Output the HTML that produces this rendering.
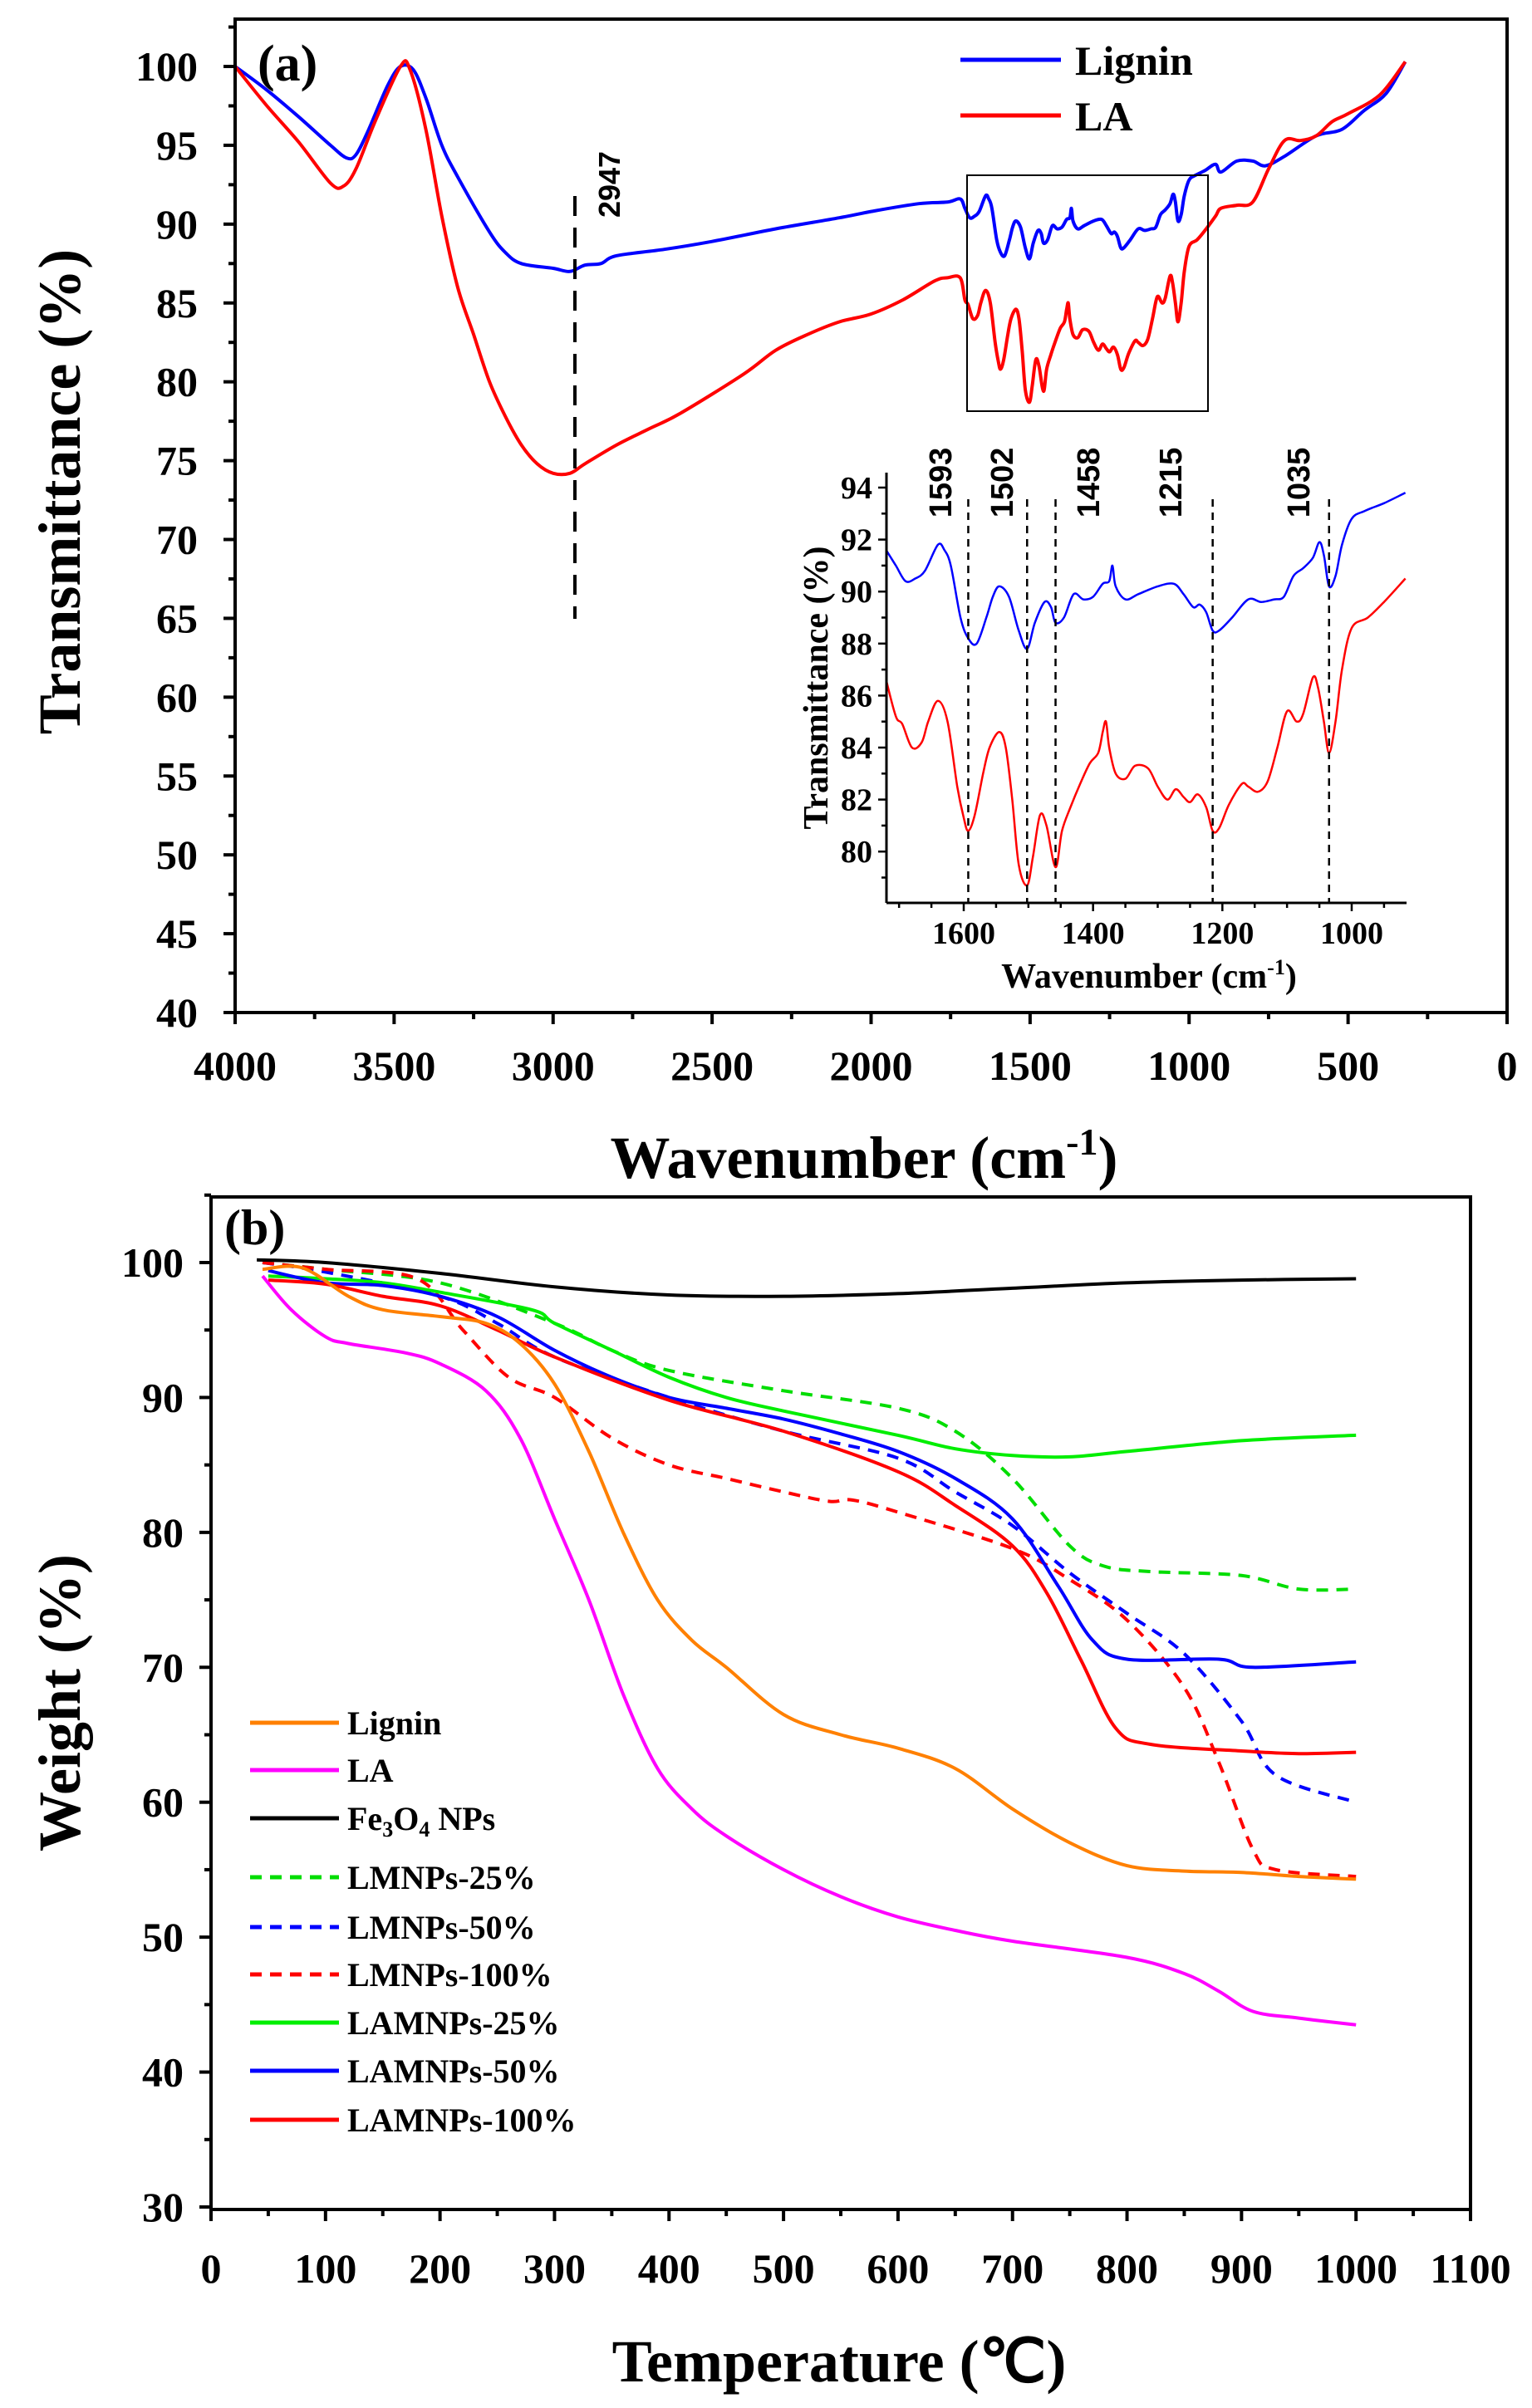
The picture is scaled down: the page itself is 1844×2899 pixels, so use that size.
<!DOCTYPE html>
<html><head><meta charset="utf-8"><style>
html,body{margin:0;padding:0;background:#fff;}
svg{display:block;}
.t{font-family:"Liberation Serif",serif;font-weight:bold;fill:#000;}
.s{font-family:"Liberation Sans",sans-serif;font-weight:bold;fill:#000;}
</style></head><body>
<svg id="g" width="1844" height="2899" viewBox="0 0 1844 2899" xmlns="http://www.w3.org/2000/svg">
<rect width="1844" height="2899" fill="#fff"/>
<g id="A"></g>
<text class="t" x="310" y="97" font-size="62">(a)</text>
<text class="t" x="1294" y="90" font-size="50">Lignin</text>
<text class="t" x="1294" y="157" font-size="50">LA</text>
<text class="s" font-size="36" transform="translate(746,222) rotate(-90)" text-anchor="middle">2947</text>
<text class="t" font-size="72" transform="translate(96,592) rotate(-90)" text-anchor="middle">Transmittance (%)</text>
<text class="t" x="1040" y="1418" font-size="72" text-anchor="middle">Wavenumber (cm<tspan font-size="46" dy="-28">-1</tspan><tspan dy="28">)</tspan></text>
<text class="t" font-size="42" transform="translate(996,828) rotate(-90)" text-anchor="middle">Transmittance (%)</text>
<text class="t" x="1383" y="1189" font-size="42" text-anchor="middle">Wavenumber (cm<tspan font-size="26" dy="-16">-1</tspan><tspan dy="16">)</tspan></text>
<text class="s" font-size="38" transform="translate(1145,581) rotate(-90)" text-anchor="middle">1593</text>
<text class="s" font-size="38" transform="translate(1219,581) rotate(-90)" text-anchor="middle">1502</text>
<text class="s" font-size="38" transform="translate(1323,581) rotate(-90)" text-anchor="middle">1458</text>
<text class="s" font-size="38" transform="translate(1422,581) rotate(-90)" text-anchor="middle">1215</text>
<text class="s" font-size="38" transform="translate(1576,581) rotate(-90)" text-anchor="middle">1035</text>
<g id="B"></g>
<text class="t" x="270" y="1498" font-size="60">(b)</text>
<text class="t" font-size="72" transform="translate(96,2050) rotate(-90)" text-anchor="middle">Weight (%)</text>
<text class="t" x="1010" y="2867" font-size="72" text-anchor="middle">Temperature (℃)</text>
<g class="t" font-size="40">
<text x="418" y="2088">Lignin</text>
<text x="418" y="2145">LA</text>
<text x="418" y="2203">Fe<tspan font-size="26" dy="8">3</tspan><tspan dy="-8">O</tspan><tspan font-size="26" dy="8">4</tspan><tspan dy="-8"> NPs</tspan></text>
<text x="418" y="2274">LMNPs-25%</text>
<text x="418" y="2334">LMNPs-50%</text>
<text x="418" y="2391">LMNPs-100%</text>
<text x="418" y="2449">LAMNPs-25%</text>
<text x="418" y="2507">LAMNPs-50%</text>
<text x="418" y="2566">LAMNPs-100%</text>
</g>
</svg>
<script>
var NS="http://www.w3.org/2000/svg";
function el(p,n,a,txt){var e=document.createElementNS(NS,n);for(var k in a)e.setAttribute(k,a[k]);if(txt!=null)e.textContent=txt;p.appendChild(e);return e;}
var A=document.getElementById('A'),B=document.getElementById('B');
var aL=283,aR=1814,aT=23,aB=1219;
function ax(w){return aL+(4000-w)*(aR-aL)/4000;}
function ay(v){return 80+(100-v)*(aB-80)/60;}
function path(p,pts,fx,fy,col,w,dash){
 var P=pts.map(function(q){return [fx(q[0]),fy(q[1])];});
 var d='M'+P[0][0].toFixed(1)+','+P[0][1].toFixed(1);
 for(var i=0;i<P.length-1;i++){
  var p0=P[i>0?i-1:i],p1=P[i],p2=P[i+1],p3=P[i+2<P.length?i+2:i+1];
  var c1x=p1[0]+(p2[0]-p0[0])/6,c1y=p1[1]+(p2[1]-p0[1])/6,c2x=p2[0]-(p3[0]-p1[0])/6,c2y=p2[1]-(p3[1]-p1[1])/6;
  d+='C'+c1x.toFixed(1)+','+c1y.toFixed(1)+' '+c2x.toFixed(1)+','+c2y.toFixed(1)+' '+p2[0].toFixed(1)+','+p2[1].toFixed(1);
 }
 var a={d:d,fill:'none',stroke:col,'stroke-width':w,'stroke-linejoin':'round'};if(dash)a['stroke-dasharray']=dash;el(p,'path',a);}
var bi=[[1720,91.6],[1705,91],[1690,90.4],[1675,90.5],[1660,90.8],[1640,91.8],[1630,91.6],[1620,91],[1605,89],[1593,88.2],[1580,88],[1565,89],[1555,89.8],[1545,90.2],[1530,89.8],[1515,88.5],[1502,87.8],[1490,88.8],[1475,89.6],[1465,89.4],[1458,88.8],[1445,89],[1430,89.9],[1415,89.7],[1400,89.8],[1385,90.3],[1375,90.4],[1370,91],[1365,90.2],[1350,89.7],[1330,89.9],[1300,90.2],[1275,90.3],[1260,89.9],[1245,89.4],[1235,89.5],[1225,89.2],[1215,88.5],[1205,88.5],[1185,89],[1160,89.7],[1140,89.6],[1120,89.7],[1105,89.8],[1090,90.6],[1075,90.9],[1060,91.3],[1050,91.9],[1043,91.4],[1035,90.2],[1025,90.6],[1015,91.8],[1000,92.8],[980,93.1],[950,93.4],[917,93.8]];
var ri=[[1720,86.6],[1705,85.2],[1695,84.9],[1680,84],[1665,84.2],[1655,85],[1640,85.8],[1625,85],[1610,82.5],[1600,81.3],[1593,80.8],[1583,81.4],[1570,83],[1560,84],[1545,84.6],[1535,84],[1525,82],[1515,79.5],[1502,78.7],[1493,79.8],[1482,81.4],[1472,81],[1458,79.4],[1448,80.8],[1435,81.7],[1420,82.6],[1405,83.4],[1392,83.8],[1385,84.6],[1380,85],[1375,84],[1365,83],[1350,82.8],[1335,83.3],[1315,83.2],[1300,82.5],[1285,82],[1272,82.4],[1260,82.1],[1250,81.9],[1238,82.2],[1225,81.7],[1215,80.8],[1205,80.9],[1190,81.8],[1170,82.6],[1160,82.5],[1145,82.3],[1130,82.7],[1115,84],[1100,85.4],[1085,85],[1075,85.3],[1060,86.7],[1052,86.3],[1043,85],[1035,83.8],[1025,85],[1015,87],[1000,88.6],[975,89],[950,89.6],[917,90.5]];
var iL=1067,iR=1693,iT=569,iB=1087;
function ix(w){return 1160+(1600-w)*0.7783;}
function iy(v){return 587+(94-v)*31.3;}
var blue=[[4000,100],[3900,98.5],[3800,96.8],[3700,95],[3650,94.2],[3620,94.4],[3580,96],[3520,98.8],[3480,100],[3440,99.8],[3400,98],[3350,95],[3300,93],[3200,89.5],[3150,88.2],[3100,87.5],[3000,87.2],[2947,87],[2900,87.4],[2850,87.5],[2800,88],[2650,88.4],[2500,88.9],[2300,89.7],[2100,90.4],[2000,90.8],[1850,91.3],[1760,91.4]].concat(bi.filter(function(p){return p[0]<1760;})).concat([[900,93.3],[850,94],[800,94],[760,93.7],[700,94.3],[600,95.6],[520,96],[450,97.2],[380,98.3],[320,100.3]]);
var red=[[4000,100],[3900,97.5],[3800,95.2],[3700,92.6],[3660,92.4],[3620,93.5],[3560,96.5],[3480,100],[3450,99.8],[3400,96],[3350,90.5],[3300,86],[3250,83],[3200,80],[3150,77.8],[3100,76],[3050,74.8],[3000,74.2],[2947,74.2],[2900,74.8],[2800,76],[2700,77],[2600,78],[2400,80.5],[2300,82],[2200,83],[2100,83.8],[2000,84.3],[1900,85.2],[1800,86.4],[1760,86.6]].concat(ri.filter(function(p){return p[0]<1760;})).concat([[900,91],[850,91.2],[800,91.4],[750,93.5],[700,95.3],[650,95.3],[600,95.6],[550,96.5],[500,97],[400,98.2],[320,100.3]]);
path(A,blue,ax,ay,'#0000ff',4);
path(A,red,ax,ay,'#ff0000',4);
el(A,'rect',{x:aL,y:aT,width:aR-aL,height:aB-aT,fill:'none',stroke:'#000','stroke-width':4});
for(var v=40;v<=102.5;v+=2.5){var y=ay(v),mj=(v%5==0);el(A,'line',{x1:aL,y1:y,x2:aL-(mj?14:8),y2:y,stroke:'#000','stroke-width':4});if(mj&&v<=100)el(A,'text',{'class':'t',x:238,y:y+17,'font-size':50,'text-anchor':'end'},v);}
for(var w=0;w<=4000;w+=250){var x=ax(w),mj=(w%500==0);el(A,'line',{x1:x,y1:aB,x2:x,y2:aB+(mj?14:8),stroke:'#000','stroke-width':4});if(mj)el(A,'text',{'class':'t',x:x,y:1300,'font-size':50,'text-anchor':'middle'},w);}
el(A,'line',{x1:1156,y1:72,x2:1277,y2:72,stroke:'#0000ff','stroke-width':5});
el(A,'line',{x1:1156,y1:139,x2:1277,y2:139,stroke:'#ff0000','stroke-width':5});
el(A,'line',{x1:692,y1:236,x2:692,y2:745,stroke:'#000','stroke-width':4,'stroke-dasharray':'24,14'});
el(A,'rect',{x:1164,y:211,width:290,height:284,fill:'none',stroke:'#000','stroke-width':2});
path(A,bi,ix,iy,'#0000ff',2.5);
path(A,ri,ix,iy,'#ff0000',2.5);
el(A,'line',{x1:iL,y1:iT,x2:iL,y2:iB,stroke:'#000','stroke-width':3});
el(A,'line',{x1:iL,y1:iB,x2:iR,y2:iB,stroke:'#000','stroke-width':3});
for(var v=79;v<=94;v+=1){var y=iy(v),mj=(v%2==0);el(A,'line',{x1:iL,y1:y,x2:iL-(mj?10:6),y2:y,stroke:'#000','stroke-width':2.5});if(mj&&v>=80)el(A,'text',{'class':'t',x:1050,y:y+13,'font-size':38,'text-anchor':'end'},v);}
for(var w=950;w<=1700;w+=50){var x=ix(w),mj=(w%200==0);el(A,'line',{x1:x,y1:iB,x2:x,y2:iB+(mj?10:6),stroke:'#000','stroke-width':2.5});if(mj)el(A,'text',{'class':'t',x:x,y:1136,'font-size':38,'text-anchor':'middle'},w);}
[1593,1502,1458,1215,1035].forEach(function(w){el(A,'line',{x1:ix(w),y1:601,x2:ix(w),y2:iB,stroke:'#000','stroke-width':2.5,'stroke-dasharray':'9,7'});});
var bL=254,bR=1770,bT=1441,bB=2660;
function bx(t){return bL+t*(bR-bL)/1100;}
function by(v){return 1520+(100-v)*(2657-1520)/70;}
var S={
fe:[[40,100.2],[100,100],[200,99.2],[300,98.2],[400,97.6],[500,97.5],[600,97.7],[700,98.1],[800,98.5],[900,98.7],[1000,98.8]],
lig:[[45,99.5],[80,99.6],[120,97.5],[150,96.5],[200,96],[240,95.5],[270,94],[300,91],[330,86],[360,80],[390,75],[420,72],[450,70],[500,66.5],[550,65],[600,64],[650,62.5],[700,59.5],[750,57],[800,55.3],[850,54.9],[900,54.8],[950,54.5],[1000,54.3]],
la:[[45,99],[70,96.5],[100,94.5],[120,94],[170,93.3],[200,92.5],[240,90.5],[270,87],[300,81],[330,75],[360,68],[390,62.5],[420,59.5],[450,57.5],[500,55],[550,53],[600,51.5],[650,50.5],[700,49.7],[800,48.5],[850,47.3],[880,46],[910,44.5],[950,44],[1000,43.5]],
g25:[[45,100],[100,99.5],[200,98.5],[300,95.5],[350,93.5],[400,92],[500,90.5],[600,89.2],[650,87.5],[700,84],[750,79],[780,77.5],[820,77.1],[900,76.8],[950,75.8],[1000,75.8]],
b50:[[45,100],[100,99.3],[200,97.5],[250,95.5],[300,93],[400,90],[500,87.5],[600,85.5],[650,83],[700,80.5],[750,77],[800,74],[850,71],[900,66],[930,62],[1000,60]],
r100:[[45,100],[100,99.5],[180,98.8],[220,95],[260,91.5],[300,90],[350,87],[400,85],[450,84],[500,83],[540,82.3],[560,82.4],[600,81.5],[700,78.8],[750,76.5],[800,73.5],[850,68.5],[880,63],[910,56.5],[930,55],[1000,54.5]],
ag25:[[50,99],[100,98.8],[150,98.5],[200,97.8],[280,96.5],[300,95.5],[350,93.5],[400,91.5],[450,90],[500,89],[600,87.2],[650,86.2],[700,85.7],[750,85.6],[800,86],[900,86.8],[1000,87.2]],
ab50:[[50,99.4],[100,98.5],[150,98.3],[200,97.5],[250,96],[300,93.5],[350,91.5],[400,90],[450,89.2],[500,88.4],[550,87.3],[600,86],[650,84],[700,81],[740,76],[770,72],[800,70.6],[880,70.6],[910,70],[1000,70.4]],
ar100:[[50,98.7],[100,98.4],[150,97.5],[200,96.8],[250,95],[300,93],[400,89.8],[500,87.5],[600,84.5],[650,82],[700,79],[730,75.5],[760,70.5],[790,65.5],[820,64.3],[900,63.8],[950,63.6],[1000,63.7]]};
path(B,S.g25,bx,by,'#00dd00',4,'14,10');
path(B,S.b50,bx,by,'#0000ff',4,'14,10');
path(B,S.r100,bx,by,'#ff0000',4,'14,10');
path(B,S.ag25,bx,by,'#00ee00',4);
path(B,S.ab50,bx,by,'#0000ff',4);
path(B,S.ar100,bx,by,'#ff0000',4);
path(B,S.lig,bx,by,'#ff8000',4);
path(B,S.la,bx,by,'#ff00ff',4);
path(B,S.fe,bx,by,'#000',4);
el(B,'rect',{x:bL,y:bT,width:bR-bL,height:bB-bT,fill:'none',stroke:'#000','stroke-width':4});
for(var v=30;v<=105;v+=5){var y=by(v),mj=(v%10==0);el(B,'line',{x1:bL,y1:y,x2:bL-(mj?14:8),y2:y,stroke:'#000','stroke-width':4});if(mj&&v<=100)el(B,'text',{'class':'t',x:221,y:y+17,'font-size':50,'text-anchor':'end'},v);}
for(var t=0;t<=1100;t+=50){var x=bx(t),mj=(t%100==0);el(B,'line',{x1:x,y1:bB,x2:x,y2:bB+(mj?14:8),stroke:'#000','stroke-width':4});if(mj)el(B,'text',{'class':'t',x:x,y:2748,'font-size':50,'text-anchor':'middle'},t);}
var L=[['#ff8000',0],['#ff00ff',0],['#000',0],['#00dd00',1],['#0000ff',1],['#ff0000',1],['#00ee00',0],['#0000ff',0],['#ff0000',0]];
var LY=[2074,2131,2189,2260,2320,2377,2435,2493,2552];
L.forEach(function(l,i){var a={x1:301,y1:LY[i],x2:408,y2:LY[i],stroke:l[0],'stroke-width':5};if(l[1])a['stroke-dasharray']='14,10';el(B,'line',a);});
</script>
</body></html>
